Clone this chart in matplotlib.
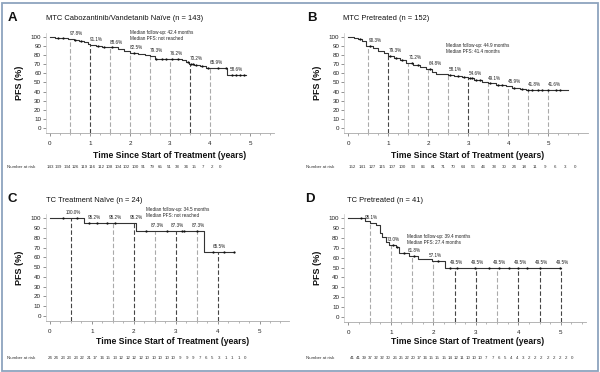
import numpy as np
import matplotlib
matplotlib.use("Agg")
import matplotlib.pyplot as plt
from matplotlib.patches import Rectangle

# ---------------- data ----------------
panel_letters = ["A", "B", "C", "D"]
titles = ["MTC Cabozantinib/Vandetanib Naïve (n = 143)",
          "MTC Pretreated (n = 152)",
          "TC Treatment Naïve (n = 24)",
          "TC Pretreated (n = 41)"]
notes = ["Median follow-up: 42.4 months\nMedian PFS: not reached",
         "Median follow-up: 44.9 months\nMedian PFS: 41.4 months",
         "Median follow-up: 34.5 months\nMedian PFS: not reached",
         "Median follow-up: 39.4 months\nMedian PFS: 27.4 months"]
note_xy = [(2.0, 96.0), (2.45, 81.5), (2.3, 100.5), (1.38, 73.0)]

# Panel A
times_A = [0, 0.12, 0.45, 0.6, 0.72, 0.85, 0.95, 1.0, 1.15, 1.3, 1.45, 1.7, 1.85, 2.0,
           2.2, 2.38, 2.5, 2.62, 3.3, 3.4, 3.48, 3.6, 3.75, 3.9, 4.42, 4.9]
surv_A = [100, 98.6, 97.8, 96.5, 95.2, 94.0, 92.5, 91.1, 90.2, 89.4, 88.6, 86.5, 84.5, 82.5,
          81.5, 80.3, 79.3, 76.2, 75.2, 73.0, 70.2, 69.2, 68.3, 65.9, 58.6, 58.6]
cens_A = [0.2, 0.32, 0.62, 0.78, 1.2, 1.35, 1.55, 2.1, 2.65, 2.8, 2.9, 3.05, 3.2, 3.45,
          3.52, 3.58, 3.65, 3.8, 3.95, 4.2, 4.4, 4.55, 4.65, 4.75, 4.85]
mile_A = [0.5, 1.0, 1.5, 2.0, 2.5, 3.0, 3.5, 4.0, 4.5]
lab_A = ["97.8%", "91.1%", "88.6%", "82.5%", "79.3%", "76.2%", "70.2%", "65.9%", "58.6%"]
risk_A = [143, 139, 134, 126, 119, 116, 112, 108, 104, 102, 100, 91, 79, 65, 51, 38, 34, 15, 7, 2, 0]

# Panel B
times_B = [0, 0.15, 0.25, 0.35, 0.45, 0.62, 0.75, 0.9, 0.98, 1.15, 1.3, 1.45, 1.62, 1.8,
           1.95, 2.08, 2.18, 2.5, 2.65, 2.85, 2.98, 3.15, 3.35, 3.48, 3.7, 3.95, 4.1, 4.28,
           4.45, 4.9, 5.5]
surv_B = [100, 99.0, 97.5, 95.5, 90.3, 87.5, 85.0, 82.5, 79.3, 77.0, 74.5, 71.2, 69.0, 67.0,
          64.8, 62.0, 59.0, 58.1, 56.8, 55.5, 54.6, 52.5, 51.0, 49.1, 47.8, 45.9, 44.5, 42.5,
          41.8, 41.6, 41.6]
cens_B = [0.3, 0.55, 1.05, 1.2, 1.35, 1.6, 1.75, 2.05, 2.55, 2.75, 2.9, 3.05, 3.1, 3.2, 3.3,
          3.55, 3.75, 3.85, 4.15, 4.35, 4.5, 4.6, 4.75, 4.85, 5.0, 5.2, 5.3]
mile_B = [0.5, 1.0, 1.5, 2.0, 2.5, 3.0, 3.5, 4.0, 4.5, 5.0]
lab_B = ["90.3%", "79.3%", "71.2%", "64.8%", "58.1%", "54.6%", "49.1%", "45.9%", "41.8%", "41.6%"]
risk_B = [152, 141, 127, 115, 107, 100, 93, 86, 81, 71, 70, 64, 56, 46, 38, 30, 24, 18, 11, 9, 6, 3, 0]

# Panel C
times_C = [0, 0.82, 2.05, 3.68, 4.38]
surv_C = [100, 95.2, 87.3, 65.5, 65.5]
cens_C = [0.3, 0.65, 0.92, 1.12, 1.35, 1.55, 2.3, 2.8, 3.15, 3.2, 3.5, 3.9, 4.15, 4.38]
mile_C = [0.5, 1.0, 1.5, 2.0, 2.5, 3.0, 3.5, 4.0]
lab_C = ["100.0%", "95.2%", "95.2%", "95.2%", "87.3%", "87.3%", "87.3%", "65.5%"]
risk_C = [24, 24, 23, 23, 23, 22, 21, 17, 16, 15, 13, 12, 12, 12, 12, 10, 10, 10, 10, 10,
          9, 9, 9, 7, 6, 5, 3, 1, 1, 1, 0]

# Panel D
times_D = [0, 0.4, 0.5, 0.65, 0.75, 0.8, 0.88, 0.95, 1.12, 1.2, 1.42, 1.65, 1.98, 2.27, 5.0]
surv_D = [100, 97.6, 95.1, 92.7, 85.4, 80.5, 76.0, 73.0, 70.5, 65.2, 61.8, 58.4, 57.1, 49.5, 49.5]
cens_D = [0.3, 1.05, 1.15, 1.3, 1.55, 2.1, 2.4, 2.55, 2.98, 3.3, 3.55, 3.78, 4.0, 4.2, 4.5, 4.98]
mile_D = [0.5, 1.0, 1.5, 2.0, 2.5, 3.0, 3.5, 4.0, 4.5, 5.0]
lab_D = ["95.1%", "73.0%", "61.8%", "57.1%", "49.5%", "49.5%", "49.5%", "49.5%", "49.5%", "49.5%"]
risk_D = [41, 41, 39, 37, 32, 32, 30, 26, 25, 22, 20, 17, 16, 15, 15, 15, 14, 12, 11, 10, 10,
          10, 7, 7, 6, 5, 4, 4, 3, 2, 2, 2, 2, 2, 2, 2, 0]

xticks = [0, 1, 2, 3, 4, 5]
yticks = [0, 10, 20, 30, 40, 50, 60, 70, 80, 90, 100]
xlabel = "Time Since Start of Treatment (years)"
ylabel = "PFS (%)"
risk_label = "Number at risk"

# ---------------- layout (pixels) ----------------
W, H, DPI = 600, 372, 100
fig = plt.figure(figsize=(W / DPI, H / DPI), dpi=DPI)
fig.patch.set_facecolor("white")

# x0px, px per year, y100px, y0px, xlim
geo = [(50, 40.0, 37, 128, (-0.1, 5.6)),
       (348.3, 40.0, 37, 128, (-0.1, 6.0)),
       (50, 41.9, 218.3, 316, (-0.1, 5.7)),
       (348.3, 42.5, 218.3, 316.7, (-0.1, 5.6))]
ylim = (-5, 104)
letter_pos = [(8, 18), (307, 18), (8, 199), (305, 199)]
title_pos = [(46, 19), (343, 19), (46, 200), (347, 200)]
xlab_pos = [(170, 155), (468, 155), (173, 341), (468, 341)]
ylab_pos = [(19, 83), (318, 83), (19, 268), (318, 268)]
risk_rows = [(7, 50, 220, 167), (306, 352, 575, 167), (7, 50, 245, 358), (306, 352, 572, 358)]
dark_lines = [[1.0, 3.5], [1.0, 3.0], [0.5, 2.0, 3.0, 4.0], [2.5, 3.0, 4.0, 4.5, 5.0]]
no_line = [[4.5], [], [1.0], []]
lab_ha = ["left", "left", "center", "center"]
lab_dx = [0.0, 0.0, 0.05, 0.05]

panels = [(times_A, surv_A, cens_A, mile_A, lab_A, risk_A),
          (times_B, surv_B, cens_B, mile_B, lab_B, risk_B),
          (times_C, surv_C, cens_C, mile_C, lab_C, risk_C),
          (times_D, surv_D, cens_D, mile_D, lab_D, risk_D)]

sans = ["Liberation Sans", "DejaVu Sans"]


def step_val(t_arr, s_arr, t):
    t_arr = np.asarray(t_arr)
    s_arr = np.asarray(s_arr)
    idx = np.searchsorted(t_arr, t, side="right") - 1
    return s_arr[np.clip(idx, 0, len(s_arr) - 1)]


for i, (times, surv, cens, miles, labs, risk) in enumerate(panels):
    x0, pxy, y100, y0, xl = geo[i]
    ppp = (y0 - y100) / 100.0
    left = x0 + xl[0] * pxy
    right = x0 + xl[1] * pxy
    top = y0 - ylim[1] * ppp
    bottom = y0 - ylim[0] * ppp
    ax = fig.add_axes([left / W, 1 - bottom / H, (right - left) / W, (bottom - top) / H])
    ax.set_xlim(*xl)
    ax.set_ylim(*ylim)
    ax.set_facecolor("none")
    for s in ["top", "right"]:
        ax.spines[s].set_visible(False)
    ax.spines["left"].set_color("#c8c8c8")
    ax.spines["left"].set_linewidth(0.5)
    ax.spines["bottom"].set_color("#a8a8a8")
    ax.spines["bottom"].set_linewidth(0.6)
    ax.set_xticks(xticks)
    ax.set_xticks(np.arange(0, xl[1], 0.25), minor=True)
    ax.set_yticks(yticks)
    ax.tick_params(axis="both", which="major", length=2, width=0.5, color="#666",
                   labelsize=4.5, labelcolor="#222", pad=1.5)
    ax.tick_params(axis="x", which="major", pad=4)
    ax.tick_params(axis="x", which="minor", length=1.2, width=0.5, color="#999")
    for lbl in ax.get_xticklabels() + ax.get_yticklabels():
        lbl.set_fontfamily(sans)

    # milestone dashed lines and labels
    for m, lab in zip(miles, labs):
        v = float(step_val(times, surv, m))
        if m not in no_line[i]:
            col = "#444444" if m in dark_lines[i] else "#aaaaaa"
            ax.vlines(m, ylim[0], v, colors=col, linestyles=(0, (4, 2)), lw=0.8, zorder=1)
        ax.text(m + lab_dx[i], v + 3.0, lab, fontsize=3.3, ha=lab_ha[i], va="bottom",
                color="#222", family=sans, zorder=4)

    # KM curve
    ax.step(times, surv, where="post", color="#333333", lw=0.8, zorder=2)
    cv = step_val(times, surv, np.asarray(cens))
    ax.plot(cens, cv, "o", ms=1.6, color="#111111", mec="none", zorder=3)

    ax.text(note_xy[i][0], note_xy[i][1], notes[i], fontsize=3.3, ha="left", va="bottom",
            color="#222", family=sans, linespacing=1.25)

    # texts in figure coordinates
    lx, ly = letter_pos[i]
    fig.text(lx / W, 1 - ly / H, panel_letters[i], fontsize=9.5, fontweight="bold",
             family=sans, ha="left", va="center", color="#111")
    tx, ty = title_pos[i]
    fig.text(tx / W, 1 - ty / H, titles[i], fontsize=5.4, family=sans, ha="left",
             va="center", color="#111")
    xx, xy = xlab_pos[i]
    fig.text(xx / W, 1 - xy / H, xlabel, fontsize=6.2, fontweight="bold", family=sans,
             ha="center", va="center", color="#111")
    yx, yy = ylab_pos[i]
    fig.text(yx / W, 1 - yy / H, ylabel, fontsize=6.5, fontweight="bold", family=sans,
             ha="center", va="center", rotation=90, color="#111")
    rx, n0, n1, ry = risk_rows[i]
    fig.text(rx / W, 1 - ry / H, risk_label, fontsize=3.2, family=sans, ha="left",
             va="center", color="#333")
    pos = np.linspace(n0, n1, len(risk))
    for p, n in zip(pos, risk):
        fig.text(p / W, 1 - ry / H, str(n), fontsize=3.2, family=sans, ha="center",
                 va="center", color="#333")

# outer frame
fig.patches.append(Rectangle((1.5 / W, 1.5 / H), (W - 4) / W, (H - 4) / H,
                             transform=fig.transFigure, fill=False, ec="#8ea4be", lw=1.3))

fig.savefig("out.png", dpi=DPI, facecolor="white")
